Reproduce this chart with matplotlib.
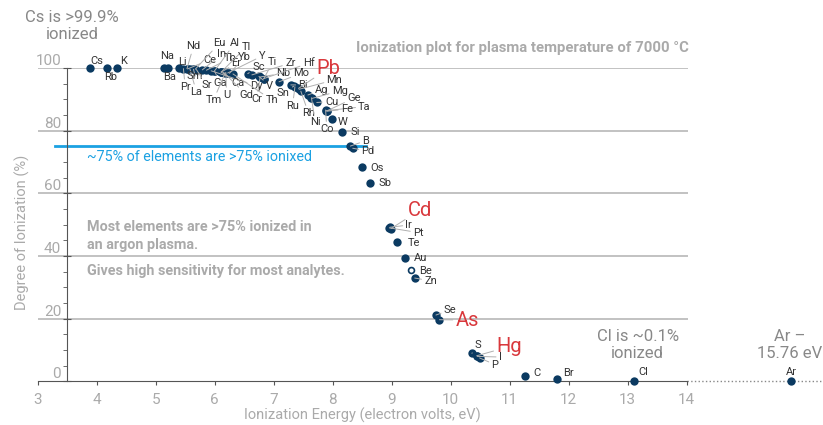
import matplotlib.pyplot as plt
from matplotlib.ticker import MultipleLocator

plt.rcParams['font.family'] = ['Roboto', 'DejaVu Sans']

# first ionization energy (eV) and degree of ionization (%) at 7000 C
elements = ["Cs", "Rb", "K", "Na", "Ba", "Li", "Pr", "Nd", "Ce", "La", "Sm", "Eu", "Sr",
            "In", "Tb", "Dy", "Al", "Ga", "Er", "Tl", "Ca", "Gd", "Tm", "U", "Y", "Yb",
            "Th", "Sc", "Zr", "V", "Nb", "Cr", "Hf", "Ti", "Mo", "Bi", "Sn", "Ru", "Pb",
            "Mn", "Rh", "Ag", "Ni", "Mg", "Cu", "Co", "Ta", "Ge", "Fe", "W", "Si", "B",
            "Pd", "Os", "Sb", "Ir", "Pt", "Cd", "Te", "Au", "Be", "Zn", "Se", "As", "S",
            "Hg", "I", "P", "C", "Br", "Cl", "Ar"]
ion_energy = [3.89, 4.18, 4.34, 5.14, 5.21, 5.39, 5.47, 5.53, 5.54, 5.58, 5.64, 5.67, 5.69,
              5.79, 5.86, 5.94, 5.99, 6.00, 6.11, 6.11, 6.11, 6.15, 6.18, 6.19, 6.22, 6.25,
              6.31, 6.56, 6.63, 6.75, 6.76, 6.77, 6.83, 6.83, 7.09, 7.29, 7.34, 7.36, 7.42,
              7.43, 7.46, 7.58, 7.64, 7.65, 7.73, 7.88, 7.89, 7.90, 7.90, 7.98, 8.15, 8.30,
              8.34, 8.50, 8.64, 8.97, 8.96, 8.99, 9.09, 9.23, 9.32, 9.39, 9.75, 9.81, 10.36,
              10.44, 10.45, 10.49, 11.26, 11.81, 13.10, 15.76]
ionized_pct = [100, 100, 100, 100, 100, 99.9, 99.8, 99.8, 99.7, 99.7, 99.6, 99.6, 99.5,
               99.4, 99.3, 99.1, 98.9, 98.9, 98.7, 98.7, 98.7, 98.6, 98.5, 98.5, 98.4, 98.3,
               98.1, 98.2, 97.8, 97.3, 97.1, 97.0, 96.6, 96.5, 95.6, 94.6, 94.2, 94.0, 93.5,
               93.2, 92.6, 91.4, 90.5, 90.3, 89.0, 86.6, 86.4, 86.3, 86.2, 83.7, 79.6, 75.1,
               74.4, 68.3, 63.2, 49.2, 49.0, 48.8, 44.5, 39.5, 35.6, 33.0, 21.2, 19.7, 9.0,
               8.2, 8.0, 7.5, 1.9, 0.7, 0.1, 0.0]
highlight = ["Pb", "Cd", "As", "Hg"]
open_marker = ["Be"]

# where each element label sits (layout, in axis units)
label_pos = {
    "Cs": (4.00, 102.3), "Rb": (4.24, 97.0), "K": (4.46, 102.3), "Na": (5.19, 103.8),
    "Ba": (5.24, 97.0), "Li": (5.46, 101.9), "Nd": (5.64, 106.9), "Eu": (6.08, 107.9),
    "Al": (6.34, 107.9), "Tl": (6.54, 106.8), "In": (6.12, 104.4), "Tb": (6.26, 103.1),
    "Yb": (6.51, 103.4), "Y": (6.80, 103.8), "Ce": (5.91, 102.6), "Er": (6.37, 101.5),
    "Sc": (6.74, 100.4), "Ti": (6.98, 101.8), "Zr": (7.28, 101.5), "Hf": (7.59, 101.5),
    "Pb": (7.93, 99.9), "Nb": (7.16, 98.3), "Mo": (7.47, 98.3), "Sm": (5.67, 97.4),
    "Pr": (5.50, 94.0), "La": (5.69, 92.4), "Sr": (5.86, 94.5), "Ga": (6.09, 95.3),
    "Tm": (5.98, 89.8), "U": (6.20, 91.4), "Ca": (6.40, 95.3), "Gd": (6.54, 91.4),
    "Dy": (6.70, 94.4), "V": (6.93, 94.4), "Cr": (6.71, 90.1), "Th": (6.97, 89.8),
    "Sn": (7.16, 92.1), "Ru": (7.32, 88.0), "Bi": (7.50, 94.6), "Mn": (8.03, 96.2),
    "Ag": (7.81, 93.0), "Mg": (8.12, 92.7), "Ge": (8.36, 90.4), "Ta": (8.54, 87.7),
    "Cu": (7.98, 89.3), "Fe": (8.24, 86.9), "Rh": (7.59, 85.6), "Ni": (7.70, 82.9),
    "W": (8.17, 82.9), "Co": (7.90, 80.5), "Si": (8.38, 79.7), "B": (8.56, 76.8),
    "Pd": (8.60, 73.5), "Os": (8.76, 68.2), "Sb": (8.89, 63.2), "Cd": (9.48, 54.7),
    "Ir": (9.29, 49.9), "Pt": (9.45, 47.5), "Te": (9.37, 44.3), "Au": (9.49, 39.3),
    "Be": (9.58, 35.3), "Zn": (9.66, 32.1), "Se": (9.99, 22.8), "As": (10.28, 19.6),
    "S": (10.46, 11.6), "Hg": (10.99, 11.1), "I": (10.84, 7.8), "P": (10.75, 5.4),
    "C": (11.46, 2.8), "Br": (12.00, 2.6), "Cl": (13.26, 2.9), "Ar": (15.78, 2.9),
}
no_leader = {"Cs", "Rb", "K", "Na", "Ba", "Li", "W", "Si", "Os", "Sb", "Te", "Au",
             "Be", "C", "Br", "Cl", "Ar"}

navy = "#0b3a61"
grey_txt = "#aaaaaa"
axis_col = "#555555"

fig = plt.figure(figsize=(8.23, 4.25), dpi=100)
ax = fig.add_axes([0.0458, 0.1024, 0.9542, 0.7376])
ax.set_xlim(3, 16.31)
ax.set_ylim(0, 100)

ax.spines["top"].set_visible(False)
ax.spines["right"].set_visible(False)
ax.spines["left"].set_position(("data", 3.5))
ax.spines["left"].set_bounds(0, 100)
ax.spines["bottom"].set_bounds(3, 14)
ax.spines["left"].set_color(axis_col)
ax.spines["bottom"].set_color(axis_col)

ax.set_xticks(range(3, 15))
ax.set_yticks(range(0, 101, 20))
ax.yaxis.set_minor_locator(MultipleLocator(5))
ax.tick_params(axis="x", direction="out", length=3, color=axis_col,
               labelcolor=grey_txt, labelsize=11, pad=5)
ax.tick_params(axis="y", which="major", direction="inout", length=5.8, color=axis_col,
               labelcolor=grey_txt, labelsize=11, pad=1.4)
ax.tick_params(axis="y", which="minor", direction="out", length=3, color=axis_col)
for lab in ax.get_yticklabels():
    lab.set_verticalalignment("bottom")

ax.hlines(range(20, 101, 20), 3, 14.02, color="#b8b8b8", lw=1.2, zorder=0)
ax.plot([14, 16.31], [0, 0], ls=":", color="#888888", lw=1, clip_on=False)

# points
for el, x, y in zip(elements, ion_energy, ionized_pct):
    if el in open_marker:
        ax.scatter(x, y, s=18, facecolor="white", edgecolor=navy, lw=1.2, zorder=3, clip_on=False)
    else:
        ax.scatter(x, y, s=36, color=navy, zorder=3, clip_on=False, lw=0)

# labels
for el, x, y in zip(elements, ion_energy, ionized_pct):
    lx, ly = label_pos[el]
    if el in highlight:
        kw = dict(fontsize=14.5, color="#d9383c")
    else:
        kw = dict(fontsize=8, color="#333333")
    arrow = None
    if el not in no_leader:
        arrow = dict(arrowstyle="-", color="#b0b0b0", lw=0.7, shrinkA=0, shrinkB=0)
    ax.annotate(el, xy=(x, y), xytext=(lx, ly), ha="center", va="center",
                arrowprops=arrow, zorder=4, annotation_clip=False, **kw)

# 75% line
ax.plot([3.29, 8.57], [75.1, 75.1], color="#1ba1e2", lw=2, zorder=2)
ax.text(3.84, 71.7, "~75% of elements are >75% ionixed", color="#1ba1e2",
        fontsize=10.3, va="center", ha="left")

ax.text(3.84, 46.4, "Most elements are >75% ionized in\nan argon plasma.", color=grey_txt,
        fontsize=10.4, fontweight="bold", va="center", ha="left", linespacing=1.35)
ax.text(3.84, 35.3, "Gives high sensitivity for most analytes.", color=grey_txt,
        fontsize=10.4, fontweight="bold", va="center", ha="left")

ax.text(14.03, 106.4, "Ionization plot for plasma temperature of 7000 °C", color=grey_txt,
        fontsize=10.7, fontweight="bold", ha="right", va="center")

ax.text(3.58, 113.4, "Cs is >99.9%\nionized", color="#888888", fontsize=12,
        ha="center", va="center", linespacing=1.15)
ax.text(13.17, 11.6, "Cl is ~0.1%\nionized", color="#888888", fontsize=12,
        ha="center", va="center", linespacing=1.15)
ax.text(15.74, 11.6, "Ar –\n15.76 eV", color="#888888", fontsize=12,
        ha="center", va="center", linespacing=1.15)

fig.text(22 / 823, 1 - 232 / 425, "Degree of Ionization (%)", rotation=90, color=grey_txt,
         fontsize=10.5, ha="center", va="center")
fig.text(362 / 823, 1 - 415 / 425, "Ionization Energy (electron volts, eV)", color=grey_txt,
         fontsize=10.5, ha="center", va="center")

fig.savefig("out.png", dpi=100)
